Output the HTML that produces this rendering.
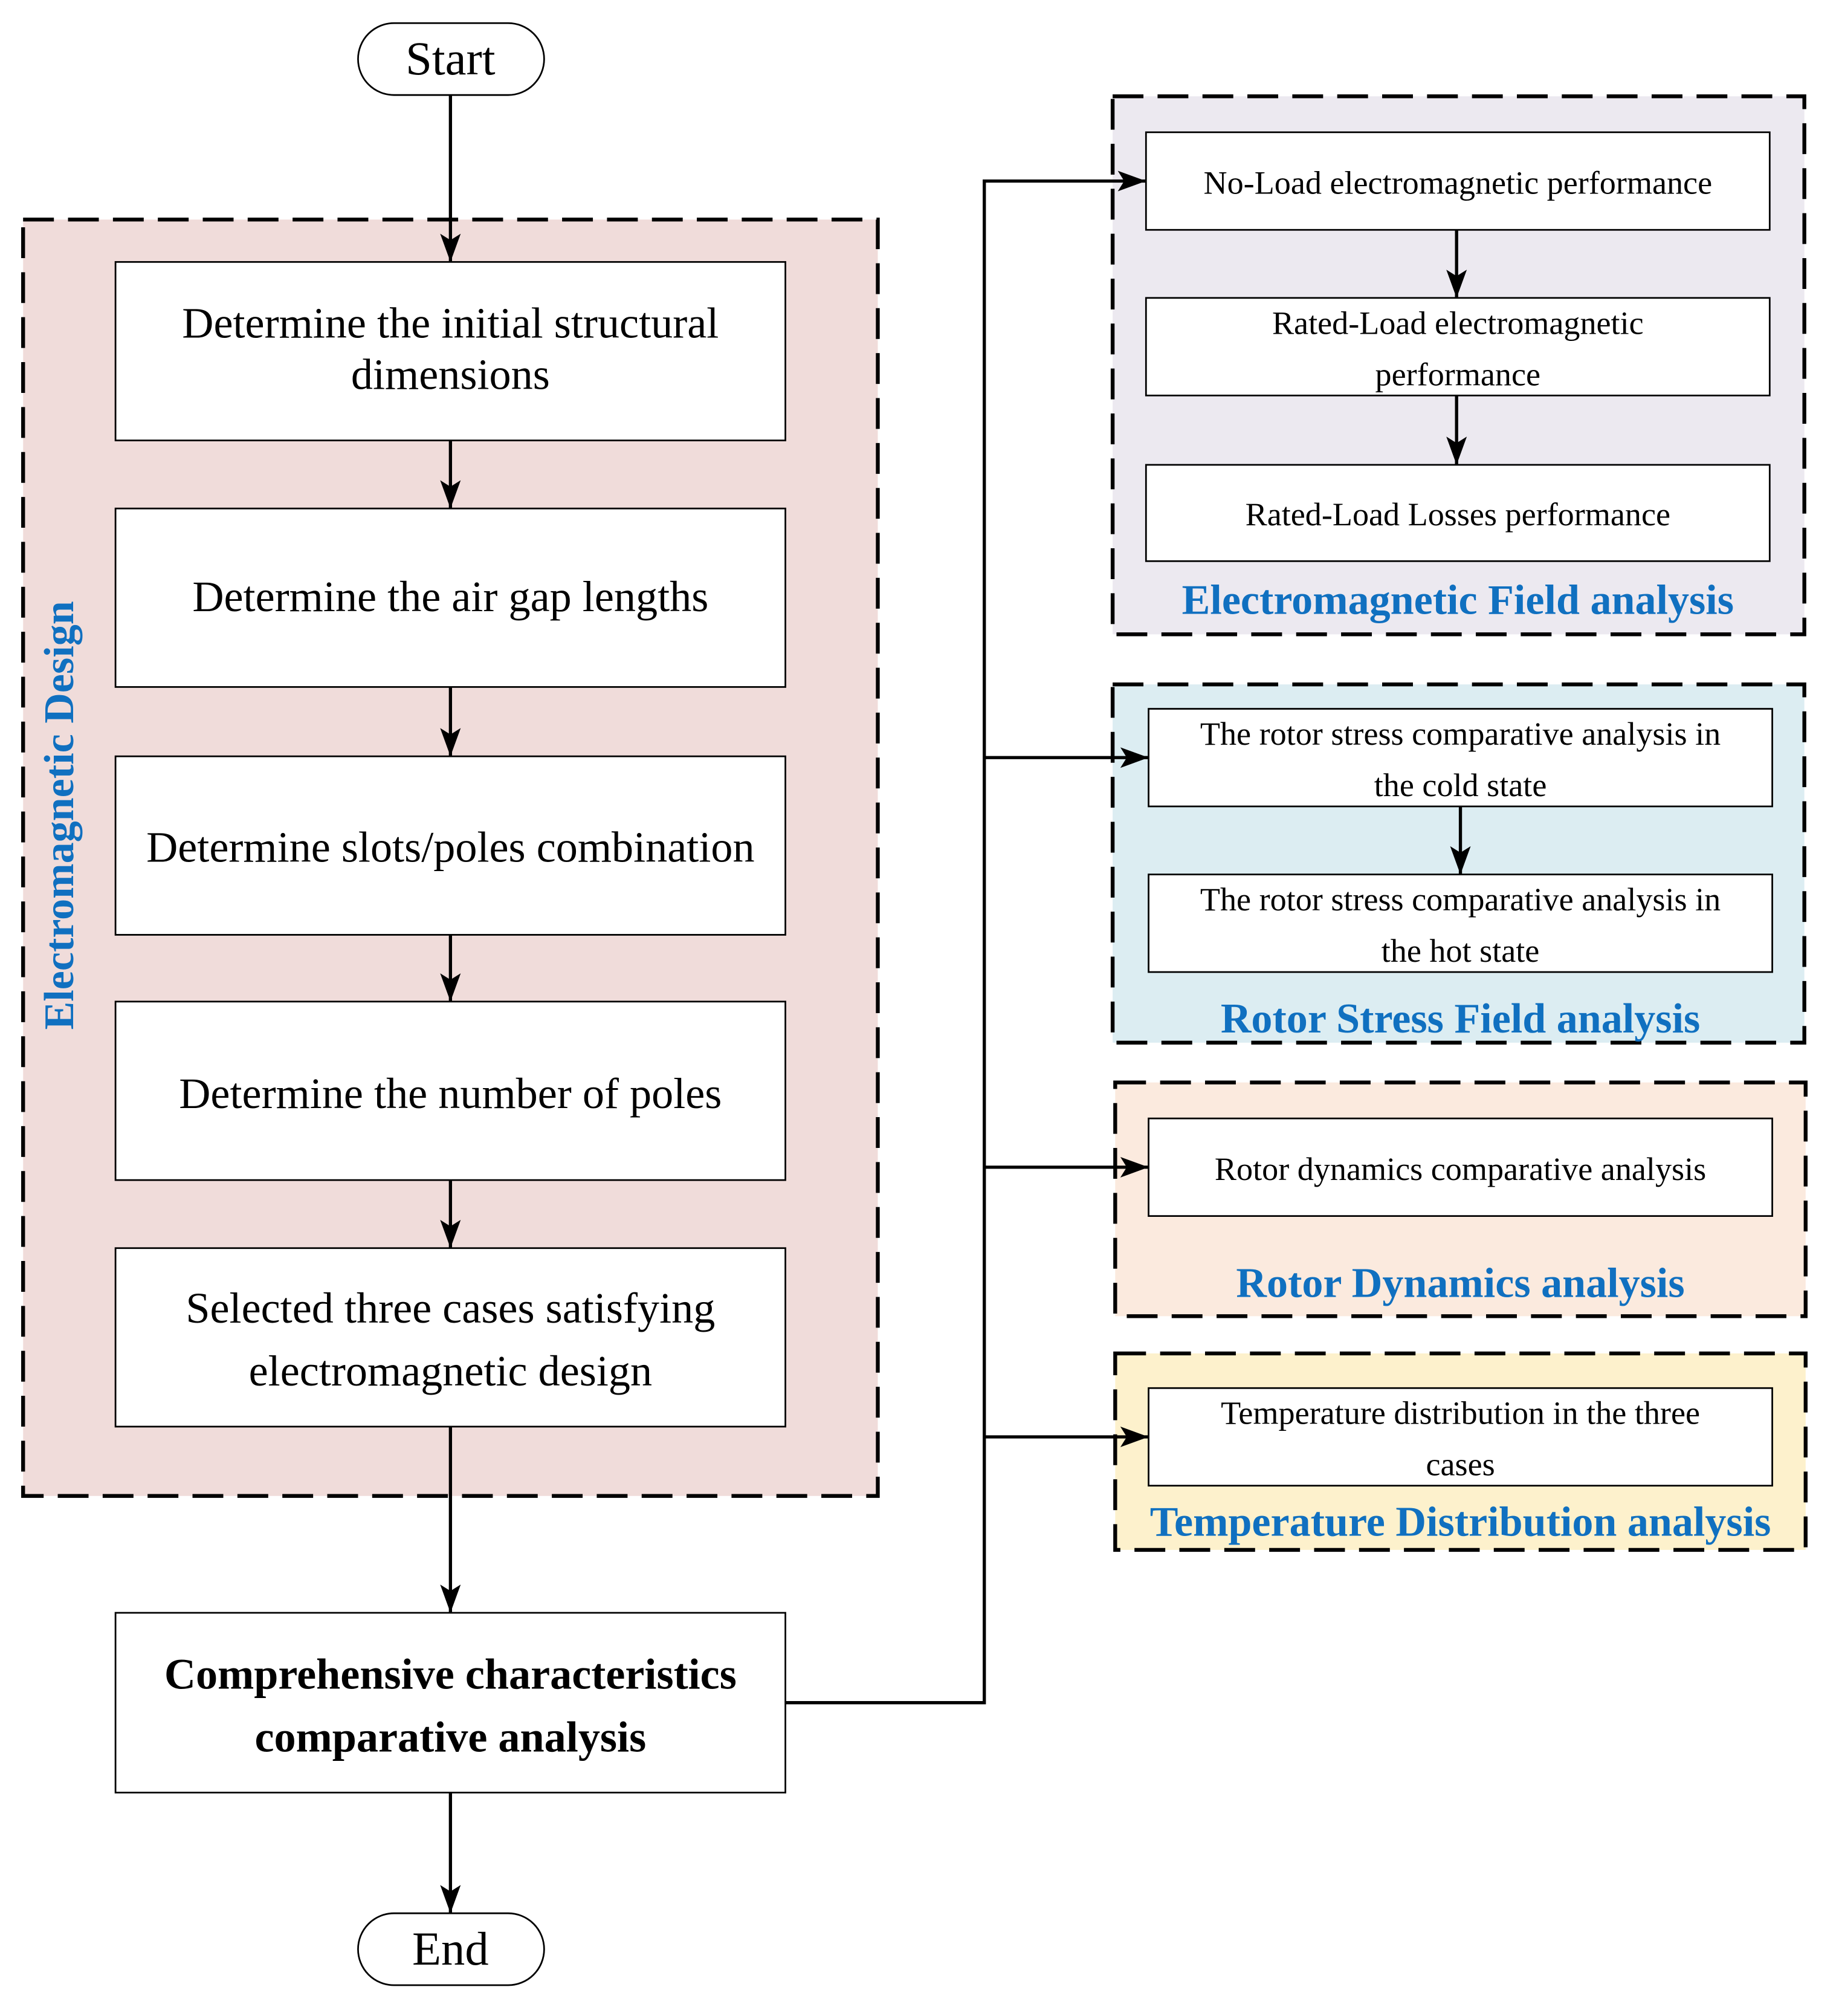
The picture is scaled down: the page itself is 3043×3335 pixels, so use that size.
<!DOCTYPE html>
<html><head><meta charset="utf-8"><style>html,body{margin:0;padding:0;background:#fff}svg{display:block}</style></head>
<body>
<svg width="3043" height="3335" viewBox="0 0 1433 1570" preserveAspectRatio="none" xmlns="http://www.w3.org/2000/svg" font-family="'Liberation Serif', serif">
<defs>
<marker id="b" markerWidth="22" markerHeight="22" refX="22" refY="11" orient="auto" markerUnits="userSpaceOnUse" viewBox="0 0 22 22"><path d="M0,3 L22,11 L0,19 L5,11 Z" fill="#000"/></marker></defs>
<g stroke="#000" stroke-width="3" stroke-dasharray="24,11">
<rect x="18" y="171" width="666" height="994" fill="#f0dcda"/>
<rect x="867" y="75" width="539" height="419" fill="#ece9f0"/>
<rect x="867" y="533" width="539" height="279" fill="#dcedf2"/>
<rect x="869" y="843" width="538" height="182" fill="#fbeade"/>
<rect x="869" y="1054" width="538" height="153" fill="#fdf1cc"/>
</g>
<g fill="#fff" stroke="#000" stroke-width="1.3">
<rect x="279" y="18" width="145" height="56" rx="28"/>
<rect x="279" y="1490" width="145" height="56" rx="28"/>
<rect x="90" y="204" width="522" height="139"/>
<rect x="90" y="396" width="522" height="139"/>
<rect x="90" y="589" width="522" height="139"/>
<rect x="90" y="780" width="522" height="139"/>
<rect x="90" y="972" width="522" height="139"/>
<rect x="90" y="1256" width="522" height="140"/>
<rect x="893" y="103" width="486" height="76"/>
<rect x="893" y="232" width="486" height="76"/>
<rect x="893" y="362" width="486" height="75"/>
<rect x="895" y="552" width="486" height="76"/>
<rect x="895" y="681" width="486" height="76"/>
<rect x="895" y="871" width="486" height="76"/>
<rect x="895" y="1081" width="486" height="76"/>
</g>
<g stroke="#000" stroke-width="2.5" fill="none" marker-end="url(#b)">
<line x1="351" y1="74" x2="351" y2="204"/>
<line x1="351" y1="343" x2="351" y2="396"/>
<line x1="351" y1="535" x2="351" y2="589"/>
<line x1="351" y1="728" x2="351" y2="780"/>
<line x1="351" y1="919" x2="351" y2="972"/>
<line x1="351" y1="1111" x2="351" y2="1256"/>
<line x1="351" y1="1396" x2="351" y2="1490"/>
<line x1="1135" y1="179" x2="1135" y2="232"/>
<line x1="1135" y1="308" x2="1135" y2="362"/>
<line x1="1138" y1="628" x2="1138" y2="681"/>
<polyline points="612,1326 767,1326 767,141 893,141"/>
<line x1="767" y1="590" x2="895" y2="590"/>
<line x1="767" y1="909" x2="895" y2="909"/>
<line x1="767" y1="1119" x2="895" y2="1119"/>
</g>
<g text-anchor="middle" fill="#000" font-size="34">
<text x="351" y="58" font-size="37">Start</text>
<text x="351" y="1530" font-size="37">End</text>
<text x="351" y="263">Determine the initial structural</text>
<text x="351" y="303">dimensions</text>
<text x="351" y="476">Determine the air gap lengths</text>
<text x="351" y="671">Determine slots/poles combination</text>
<text x="351" y="863">Determine the number of poles</text>
<text x="351" y="1030">Selected three cases satisfying</text>
<text x="351" y="1079">electromagnetic design</text>
<text x="351" y="1315" font-weight="bold">Comprehensive characteristics</text>
<text x="351" y="1364" font-weight="bold">comparative analysis</text>
<g font-size="25.5">
<text x="1136" y="151">No-Load electromagnetic performance</text>
<text x="1136" y="260">Rated-Load electromagnetic</text>
<text x="1136" y="300">performance</text>
<text x="1136" y="409">Rated-Load Losses performance</text>
<text x="1138" y="580">The rotor stress comparative analysis in</text>
<text x="1138" y="620">the cold state</text>
<text x="1138" y="709">The rotor stress comparative analysis in</text>
<text x="1138" y="749">the hot state</text>
<text x="1138" y="919">Rotor dynamics comparative analysis</text>
<text x="1138" y="1109">Temperature distribution in the three</text>
<text x="1138" y="1149">cases</text>
</g>
<g fill="#1070c0" font-weight="bold" font-size="33">
<text x="1136" y="478">Electromagnetic Field analysis</text>
<text x="1138" y="804">Rotor Stress Field analysis</text>
<text x="1138" y="1010">Rotor Dynamics analysis</text>
<text x="1138" y="1196">Temperature Distribution analysis</text>
<text x="0" y="0" transform="translate(57,635) rotate(-90)">Electromagnetic Design</text>
</g>
</g>
</svg>
</body></html>
